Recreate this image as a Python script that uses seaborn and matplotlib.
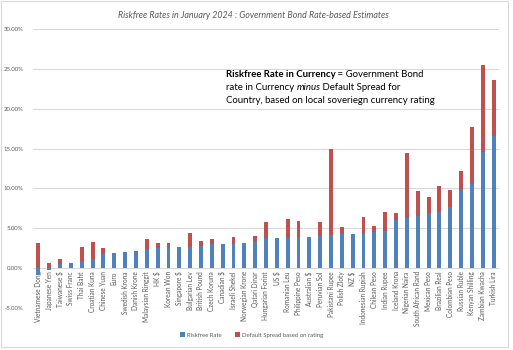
import matplotlib
matplotlib.use("Agg")
import matplotlib.pyplot as plt
from matplotlib.patches import Rectangle, Patch
import seaborn as sns
import pandas as pd
import numpy as np

currencies = ["Vietnamese Dong", "Japanese Yen", "Taiwanese $", "Swiss Franc", "Thai Baht",
              "Croatian Kuna", "Chinese Yuan", "Euro", "Swedish Krona", "Danish Krone",
              "Malaysian Ringgit", "HK $", "Korean Won", "Singapore $", "Bulgarian Lev",
              "British Pound", "Czech Koruna", "Canadian $", "Israeli Shekel", "Norwegian Krone",
              "Qatari Dinar", "Hungarian Forint", "US $", "Romanian Leu", "Philippine Peso",
              "Australian $", "Peruvian Sol", "Pakistani Rupee", "Polish Zloty", "NZ $",
              "Indonesian Rupiah", "Chilean Peso", "Indian Rupee", "Iceland Krona", "Nigerian Naira",
              "South African Rand", "Mexican Peso", "Brazilian Real", "Colombian Peso", "Russian Ruble",
              "Kenyan Shilling", "Zambian Kwacha", "Turkish Lira"]
riskfree = [-0.85, -0.15, 0.50, 0.70, 0.95,
            1.15, 1.85, 1.90, 2.00, 2.15,
            2.40, 2.55, 2.55, 2.65, 2.70,
            2.85, 3.05, 3.00, 3.10, 3.15,
            3.30, 3.80, 3.80, 3.80, 3.95,
            3.95, 4.05, 4.20, 4.33, 4.33,
            4.33, 4.50, 4.70, 6.10, 6.34,
            6.50, 6.93, 7.10, 7.65, 9.85,
            10.55, 14.60, 16.60]
spread = [3.20, 0.70, 0.65, 0.00, 1.70,
          2.15, 0.70, 0.00, 0.00, 0.00,
          1.25, 0.60, 0.60, 0.00, 1.70,
          0.55, 0.60, 0.00, 0.80, 0.00,
          0.75, 2.00, 0.00, 2.40, 1.95,
          0.00, 1.75, 10.75, 0.85, 0.00,
          2.10, 0.80, 2.35, 0.85, 8.15,
          3.20, 2.00, 3.25, 2.20, 2.35,
          7.10, 10.80, 7.00]
yticks = [-5, 0, 5, 10, 15, 20, 25, 30]

df = pd.DataFrame({"currency": currencies, "riskfree": riskfree, "spread": spread})
df["top"] = df["riskfree"].clip(lower=0) + df["spread"]

BLUE = "#4F81BD"
RED = "#C0504D"
GREY = "#595959"
FONT = "Lato"

sns.set_theme(style="white")
plt.rcParams["font.family"] = [FONT, "DejaVu Sans"]

fig = plt.figure(figsize=(5.13, 3.5), dpi=100)
ax = fig.add_axes([33 / 513, 1 - 308.3 / 350, (499 - 33) / 513, (308.3 - 28.7) / 350])

sns.barplot(data=df, x="currency", y="top", color=RED, saturation=1, width=0.36,
            ax=ax, linewidth=0, order=currencies)
sns.barplot(data=df, x="currency", y="riskfree", color=BLUE, saturation=1, width=0.36,
            ax=ax, linewidth=0, order=currencies)

ax.set_ylim(-5, 30)
ax.set_xlim(-0.5, len(currencies) - 0.5)
ax.set_yticks(yticks)
ax.set_yticklabels([f"{v:.2f}%" for v in yticks], fontsize=4.3, color=GREY)
ax.yaxis.grid(True, color="#D9D9D9", linewidth=0.8)
ax.set_axisbelow(True)
ax.set_xlabel("")
ax.set_ylabel("")
for s in ax.spines.values():
    s.set_visible(False)
ax.spines["bottom"].set_position(("data", 0))
ax.tick_params(axis="y", length=0, pad=7)
ax.tick_params(axis="x", length=0, pad=2)
ax.set_xticks(range(len(currencies)))
ax.set_xticklabels(currencies, rotation=90, fontsize=4.7, color=GREY)

# Title
fig.text(253 / 513, 1 - 15 / 350, "Riskfree Rates in January 2024 : Government Bond Rate-based Estimates",
         ha="center", va="center", fontsize=6.4, style="italic", color=GREY)

# Annotation (rich text)
renderer = fig.canvas.get_renderer()
def rich_line(x, y, parts, size=6.9):
    for txt, kw in parts:
        t = fig.text(x, y, txt, fontsize=size, va="center", ha="left", color="black", **kw)
        bb = t.get_window_extent(renderer)
        x += bb.width / fig.bbox.width

x0 = 225.5 / 513
rich_line(x0, 1 - 74.7 / 350, [("Riskfree Rate in Currency", {"fontweight": "bold"}),
                               (" = Government Bond", {})])
rich_line(x0, 1 - 87.7 / 350, [("rate in Currency ", {}), ("minus", {"style": "italic"}),
                               (" Default Spread for", {})])
rich_line(x0, 1 - 100.7 / 350, [("Country, based on local soveriegn currency rating", {})])

# Legend
handles = [Patch(facecolor=BLUE, edgecolor="none", label="Riskfree Rate"),
           Patch(facecolor=RED, edgecolor="none", label="Default Spread based on rating")]
leg = fig.legend(handles=handles, loc="center left", bbox_to_anchor=(180 / 513, 1 - 335 / 350),
                 ncol=2, frameon=False, fontsize=4.3, handlelength=0.8, handleheight=0.8,
                 handletextpad=0.4, columnspacing=2.2, borderpad=0, borderaxespad=0)
for t in leg.get_texts():
    t.set_color(GREY)

# Chart-area border
fig.patches.append(Rectangle((1 / 513, 3 / 350), 507 / 513, 346 / 350, transform=fig.transFigure,
                             fill=False, edgecolor="#D9D9D9", linewidth=0.8))

fig.savefig("out.png", dpi=100)
